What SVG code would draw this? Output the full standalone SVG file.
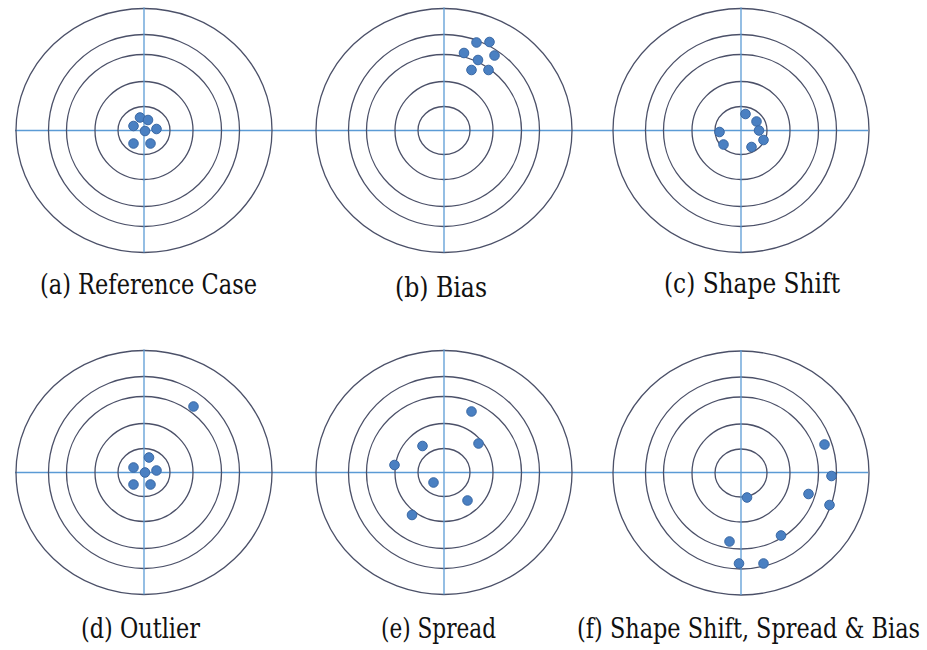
<svg xmlns="http://www.w3.org/2000/svg" width="927" height="650" viewBox="0 0 927 650">
  <style>
    .ring { fill: none; stroke: #4b5068; stroke-width: 1.3; }
    .axis { stroke: #5b9bd5; stroke-width: 1.3; fill: none; }
    .dot { fill: #4a80c2; stroke: #3a68a4; stroke-width: 1; }
    .lbl { font-family: "DejaVu Serif Condensed", "DejaVu Serif", "Liberation Serif", serif; font-size: 27px; fill: #111; }
  </style>
  <defs>
    <g id="target">
      <ellipse class="ring" cx="0" cy="0" rx="128" ry="122"/>
      <ellipse class="ring" cx="0" cy="0" rx="95.5" ry="96"/>
      <ellipse class="ring" cx="0" cy="0" rx="77.5" ry="76"/>
      <ellipse class="ring" cx="0" cy="0" rx="49" ry="49"/>
      <ellipse class="ring" cx="0" cy="0" rx="26" ry="24"/>
      <line class="axis" x1="0" y1="-123" x2="0" y2="122"/>
    </g>
  </defs>
  <rect width="927" height="650" fill="#ffffff"/>

  <g id="connectors">
    <line class="axis" x1="15" y1="130.5" x2="868" y2="130.5"/>
    <line class="axis" x1="15" y1="472.5" x2="868" y2="472.5"/>
  </g>

  <g id="target-a">
    <use href="#target" x="144" y="130.5"/>
    <circle class="dot" cx="140" cy="117.5" r="4.8"/>
    <circle class="dot" cx="148" cy="120" r="4.8"/>
    <circle class="dot" cx="133.5" cy="126" r="4.8"/>
    <circle class="dot" cx="145" cy="131" r="4.8"/>
    <circle class="dot" cx="156.5" cy="129" r="4.8"/>
    <circle class="dot" cx="133.5" cy="143.5" r="4.8"/>
    <circle class="dot" cx="150.5" cy="143.5" r="4.8"/>
    <text class="lbl" x="40" y="294" textLength="217" lengthAdjust="spacingAndGlyphs">(a) Reference Case</text>
  </g>

  <g id="target-b">
    <use href="#target" x="444" y="130.5"/>
    <circle class="dot" cx="476.5" cy="42.5" r="4.8"/>
    <circle class="dot" cx="489.5" cy="42" r="4.8"/>
    <circle class="dot" cx="464" cy="53" r="4.8"/>
    <circle class="dot" cx="494.5" cy="55.5" r="4.8"/>
    <circle class="dot" cx="478" cy="60" r="4.8"/>
    <circle class="dot" cx="471.5" cy="70" r="4.8"/>
    <circle class="dot" cx="488.5" cy="70" r="4.8"/>
    <text class="lbl" x="395" y="297" textLength="92" lengthAdjust="spacingAndGlyphs">(b) Bias</text>
  </g>

  <g id="target-c">
    <use href="#target" x="741" y="130.5"/>
    <circle class="dot" cx="745.5" cy="114" r="4.8"/>
    <circle class="dot" cx="756.5" cy="121.5" r="4.8"/>
    <circle class="dot" cx="759" cy="130.5" r="4.8"/>
    <circle class="dot" cx="763.5" cy="140" r="4.8"/>
    <circle class="dot" cx="719.5" cy="132" r="4.8"/>
    <circle class="dot" cx="723.5" cy="144.5" r="4.8"/>
    <circle class="dot" cx="751.5" cy="147" r="4.8"/>
    <text class="lbl" x="664" y="293" textLength="176" lengthAdjust="spacingAndGlyphs">(c) Shape Shift</text>
  </g>

  <g id="target-d">
    <use href="#target" x="144" y="472.5"/>
    <circle class="dot" cx="193.5" cy="406.5" r="4.8"/>
    <circle class="dot" cx="149" cy="457.5" r="4.8"/>
    <circle class="dot" cx="133.5" cy="467.5" r="4.8"/>
    <circle class="dot" cx="145" cy="472.5" r="4.8"/>
    <circle class="dot" cx="156.5" cy="470.5" r="4.8"/>
    <circle class="dot" cx="133.5" cy="484.5" r="4.8"/>
    <circle class="dot" cx="150.5" cy="484.5" r="4.8"/>
    <text class="lbl" x="81" y="638" textLength="119" lengthAdjust="spacingAndGlyphs">(d) Outlier</text>
  </g>

  <g id="target-e">
    <use href="#target" x="444" y="472.5"/>
    <circle class="dot" cx="471.5" cy="411.5" r="4.8"/>
    <circle class="dot" cx="478.5" cy="443.5" r="4.8"/>
    <circle class="dot" cx="422.5" cy="446" r="4.8"/>
    <circle class="dot" cx="394.5" cy="465" r="4.8"/>
    <circle class="dot" cx="433.5" cy="482.5" r="4.8"/>
    <circle class="dot" cx="467.5" cy="500.5" r="4.8"/>
    <circle class="dot" cx="412" cy="515" r="4.8"/>
    <text class="lbl" x="381" y="638" textLength="115" lengthAdjust="spacingAndGlyphs">(e) Spread</text>
  </g>

  <g id="target-f">
    <use href="#target" x="741" y="473"/>
    <circle class="dot" cx="824.5" cy="444.5" r="4.8"/>
    <circle class="dot" cx="831.5" cy="476" r="4.8"/>
    <circle class="dot" cx="808.5" cy="494" r="4.8"/>
    <circle class="dot" cx="829.5" cy="505" r="4.8"/>
    <circle class="dot" cx="747" cy="497.5" r="4.8"/>
    <circle class="dot" cx="781" cy="535.5" r="4.8"/>
    <circle class="dot" cx="729.5" cy="541.5" r="4.8"/>
    <circle class="dot" cx="739" cy="563.5" r="4.8"/>
    <circle class="dot" cx="763.5" cy="563.5" r="4.8"/>
    <text class="lbl" x="577" y="638" textLength="343" lengthAdjust="spacingAndGlyphs">(f) Shape Shift, Spread &amp; Bias</text>
  </g>
</svg>
